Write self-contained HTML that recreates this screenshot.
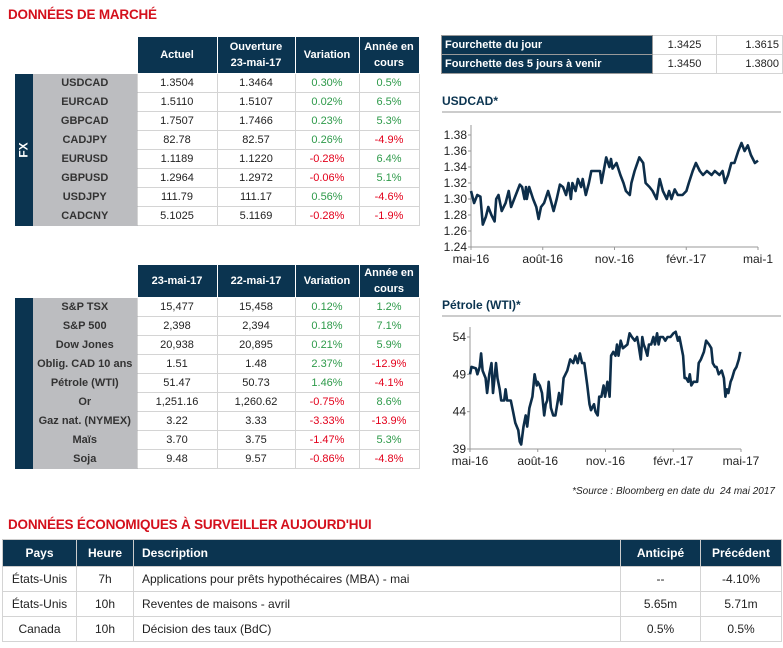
<!DOCTYPE html>
<html><head><meta charset="utf-8">
<style>
*{margin:0;padding:0;box-sizing:border-box}
body{width:783px;height:648px;background:#fff;font-family:"Liberation Sans",sans-serif;position:relative;overflow:hidden;color:#222}
.title{position:absolute;left:8px;color:#d4101c;font-size:13.5px;font-weight:bold;letter-spacing:-0.2px}
table{position:absolute;border-collapse:collapse;table-layout:fixed;font-size:11px}
td,th{text-align:center;padding:0;white-space:nowrap;overflow:hidden}
th{background:#0b3450;color:#fff;font-weight:bold;border:1px solid #fff;line-height:16px}
td.v{border:1px solid #d4d4d4;background:#fff;height:19px}
td.lab{background:#bcbdc0;color:#333;font-weight:bold;border-bottom:1px solid #bcbdc0;height:19px}
td.band{background:#0b3450;color:#fff;font-weight:bold;border:none}
.g{color:#2e9a4a}.r{color:#e3001b}
.band span{display:inline-block;transform:rotate(-90deg);white-space:nowrap;font-size:12px}
.ctitle{position:absolute;left:442px;width:339px;font-weight:bold;color:#0b3450;font-size:12px;border-bottom:2px solid #ccc;padding-bottom:3px}
svg{position:absolute;left:0;top:0}
svg text{font-family:"Liberation Sans",sans-serif;font-size:12px;fill:#222}
</style></head><body>
<div class="title" style="top:7px">DONNÉES DE MARCHÉ</div>

<table style="left:15px;top:36px;width:404px">
<colgroup><col style="width:18px"><col style="width:104px"><col style="width:80px"><col style="width:78px"><col style="width:64px"><col style="width:60px"></colgroup>
<tr style="height:37px"><td colspan="2" style="background:#fff"></td><th>Actuel</th><th>Ouverture<br>23-mai-17</th><th>Variation</th><th>Année en<br>cours</th></tr>
<tr><td class="band" rowspan="8"><span>FX</span></td><td class="lab">USDCAD</td><td class="v">1.3504</td><td class="v">1.3464</td><td class="v g">0.30%</td><td class="v g">0.5%</td></tr>
<tr><td class="lab">EURCAD</td><td class="v">1.5110</td><td class="v">1.5107</td><td class="v g">0.02%</td><td class="v g">6.5%</td></tr>
<tr><td class="lab">GBPCAD</td><td class="v">1.7507</td><td class="v">1.7466</td><td class="v g">0.23%</td><td class="v g">5.3%</td></tr>
<tr><td class="lab">CADJPY</td><td class="v">82.78</td><td class="v">82.57</td><td class="v g">0.26%</td><td class="v r">-4.9%</td></tr>
<tr><td class="lab">EURUSD</td><td class="v">1.1189</td><td class="v">1.1220</td><td class="v r">-0.28%</td><td class="v g">6.4%</td></tr>
<tr><td class="lab">GBPUSD</td><td class="v">1.2964</td><td class="v">1.2972</td><td class="v r">-0.06%</td><td class="v g">5.1%</td></tr>
<tr><td class="lab">USDJPY</td><td class="v">111.79</td><td class="v">111.17</td><td class="v g">0.56%</td><td class="v r">-4.6%</td></tr>
<tr><td class="lab">CADCNY</td><td class="v">5.1025</td><td class="v">5.1169</td><td class="v r">-0.28%</td><td class="v r">-1.9%</td></tr>
</table>

<table style="left:15px;top:264px;width:404px">
<colgroup><col style="width:18px"><col style="width:104px"><col style="width:80px"><col style="width:78px"><col style="width:64px"><col style="width:60px"></colgroup>
<tr style="height:33px"><td colspan="2" style="background:#fff"></td><th>23-mai-17</th><th>22-mai-17</th><th>Variation</th><th>Année en<br>cours</th></tr>
<tr><td class="band" rowspan="9"><span>Autres marchés</span></td><td class="lab">S&amp;P TSX</td><td class="v">15,477</td><td class="v">15,458</td><td class="v g">0.12%</td><td class="v g">1.2%</td></tr>
<tr><td class="lab">S&amp;P 500</td><td class="v">2,398</td><td class="v">2,394</td><td class="v g">0.18%</td><td class="v g">7.1%</td></tr>
<tr><td class="lab">Dow Jones</td><td class="v">20,938</td><td class="v">20,895</td><td class="v g">0.21%</td><td class="v g">5.9%</td></tr>
<tr><td class="lab">Oblig. CAD 10 ans</td><td class="v">1.51</td><td class="v">1.48</td><td class="v g">2.37%</td><td class="v r">-12.9%</td></tr>
<tr><td class="lab">Pétrole (WTI)</td><td class="v">51.47</td><td class="v">50.73</td><td class="v g">1.46%</td><td class="v r">-4.1%</td></tr>
<tr><td class="lab">Or</td><td class="v">1,251.16</td><td class="v">1,260.62</td><td class="v r">-0.75%</td><td class="v g">8.6%</td></tr>
<tr><td class="lab">Gaz nat. (NYMEX)</td><td class="v">3.22</td><td class="v">3.33</td><td class="v r">-3.33%</td><td class="v r">-13.9%</td></tr>
<tr><td class="lab">Maïs</td><td class="v">3.70</td><td class="v">3.75</td><td class="v r">-1.47%</td><td class="v g">5.3%</td></tr>
<tr><td class="lab">Soja</td><td class="v">9.48</td><td class="v">9.57</td><td class="v r">-0.86%</td><td class="v r">-4.8%</td></tr>
</table>

<table style="left:441px;top:35px;width:341px">
<colgroup><col style="width:211px"><col style="width:64px"><col style="width:66px"></colgroup>
<tr><th style="text-align:left;padding-left:3px;height:19px;border:1px solid #999">Fourchette du jour</th><td class="v">1.3425</td><td class="v" style="text-align:right;padding-right:3px">1.3615</td></tr>
<tr><th style="text-align:left;padding-left:3px;height:19px;border:1px solid #999">Fourchette des 5 jours à venir</th><td class="v">1.3450</td><td class="v" style="text-align:right;padding-right:3px">1.3800</td></tr>
</table>

<div class="ctitle" style="top:94px">USDCAD*</div>
<div class="ctitle" style="top:298px">Pétrole (WTI)*</div>

<svg id="charts" width="783" height="648"></svg>

<div style="position:absolute;right:8px;top:486px;font-size:10px;font-style:italic;color:#222">*Source : Bloomberg en date du &nbsp;24 mai 2017</div>

<div class="title" style="top:517px">DONNÉES ÉCONOMIQUES À SURVEILLER AUJOURD'HUI</div>

<table style="left:2px;top:539px;width:779px;font-size:12px">
<colgroup><col style="width:74px"><col style="width:57px"><col style="width:487px"><col style="width:80px"><col style="width:81px"></colgroup>
<tr style="height:27px"><th style="border:1px solid #ccc">Pays</th><th style="border:1px solid #ccc">Heure</th><th style="text-align:left;padding-left:8px;border:1px solid #ccc">Description</th><th style="border:1px solid #ccc">Anticipé</th><th style="border:1px solid #ccc">Précédent</th></tr>
<tr style="height:25px"><td class="v">États-Unis</td><td class="v">7h</td><td class="v" style="text-align:left;padding-left:8px">Applications pour prêts hypothécaires (MBA) - mai</td><td class="v">--</td><td class="v">-4.10%</td></tr>
<tr style="height:25px"><td class="v">États-Unis</td><td class="v">10h</td><td class="v" style="text-align:left;padding-left:8px">Reventes de maisons - avril</td><td class="v">5.65m</td><td class="v">5.71m</td></tr>
<tr style="height:25px"><td class="v">Canada</td><td class="v">10h</td><td class="v" style="text-align:left;padding-left:8px">Décision des taux (BdC)</td><td class="v">0.5%</td><td class="v">0.5%</td></tr>
</table>

<script>
const usdDays=[0,4,8,12,15,19,22,26,30,32,35,39,44,48,51,55,62,65,68,70,71,74,79,83,86,89,93,98,101,105,109,113,117,121,124,127,129,133,136,140,142,146,150,153,159,164,166,172,176,178,180,185,190,194,197,202,204,208,214,219,222,227,231,236,240,244,249,252,255,259,263,269,274,277,282,286,291,295,300,306,310,316,320,323,327,331,335,340,344,348,352,356,361,365];
const usdValues=[1.31,1.295,1.305,1.303,1.268,1.278,1.29,1.28,1.272,1.30,1.305,1.285,1.295,1.31,1.29,1.30,1.318,1.315,1.30,1.315,1.30,1.315,1.30,1.29,1.275,1.29,1.295,1.31,1.30,1.285,1.30,1.318,1.315,1.305,1.32,1.30,1.32,1.31,1.325,1.315,1.325,1.305,1.32,1.335,1.335,1.335,1.32,1.352,1.34,1.35,1.338,1.345,1.33,1.32,1.31,1.305,1.32,1.335,1.352,1.345,1.32,1.315,1.31,1.30,1.325,1.31,1.30,1.31,1.30,1.312,1.305,1.305,1.31,1.32,1.335,1.345,1.335,1.33,1.335,1.33,1.335,1.33,1.335,1.32,1.33,1.345,1.345,1.36,1.37,1.36,1.367,1.355,1.345,1.348];
const usdTicks=[1.24,1.26,1.28,1.30,1.32,1.34,1.36,1.38];
const usdXLabels=["mai-16","août-16","nov.-16","févr.-17","mai-1"];
const oilDays=[0,2,8,10,13,15,17,21,23,26,29,31,35,37,40,42,46,48,50,55,58,61,65,67,69,72,75,77,80,84,87,90,91,94,97,100,102,104,106,109,112,115,120,123,126,131,135,139,142,145,148,151,154,158,161,163,167,169,172,174,177,180,182,185,188,190,193,196,198,200,203,206,212,215,218,222,225,227,230,232,234,236,239,241,244,247,249,252,254,256,260,263,266,270,274,277,280,282,284,287,289,291,294,296,298,301,304,306,308,311,315,318,322,325,327,330,332,335,339,342,344,346,348,351,353,356,359,362,364];
const oilValues=[49,50,49.8,49,50,51.8,49.5,48.5,46.5,49,50.5,46.5,50.5,48.5,47,45.5,45.5,47,45.5,45.5,44,42.5,41.5,40,39.6,42,43.5,42,44.5,46,49,47.5,48,47.5,46.5,43.5,45,45.5,48,44.5,43.5,43.5,46.5,45,48.5,49.5,51,50.5,51.5,50.5,51.8,50.5,50.5,47.5,45,44.2,45,44,43.5,46,46,47.5,46,48,46,51.5,52,51.5,53,51.5,53.5,52.5,53,54.5,54,53.5,54,53,51,54,53,52.5,51.5,53,53,54,53,54.5,53,54,54,53.5,54,54,54.5,54.7,53.5,54,53,51.5,48.5,48.5,48,49,47.5,48,48,48,50.5,51,52,53.5,53,52.5,50.5,50,50,49,49.5,48.5,46,47,46.5,48,48.5,49.5,50,51,52];
const oilTicks=[39,44,49,54];
const oilXLabels=["mai-16","août-16","nov.-16","févr.-17","mai-17"];

const NS="http://www.w3.org/2000/svg";
const svg=document.getElementById('charts');
function mk(tag,attrs){const e=document.createElementNS(NS,tag);for(const k in attrs)e.setAttribute(k,attrs[k]);svg.appendChild(e);return e;}
function drawChart(cfg){
  const xs=d=>cfg.x0+(d/365)*(cfg.x1-cfg.x0);
  const ys=v=>cfg.yb-(v-cfg.vmin)/(cfg.vmax-cfg.vmin)*(cfg.yb-cfg.yt);
  const ax=mk('path',{d:`M${cfg.x0},${cfg.yt-10}V${cfg.yb}H${cfg.x1}`,stroke:'#999',fill:'none','stroke-width':1});
  
  
  cfg.ticks.forEach(t=>{
    const tx=mk('text',{x:cfg.x0-4,y:ys(t)+4,'text-anchor':'end'});
    tx.textContent=cfg.fmt(t);
    
    
    mk('line',{x1:cfg.x0-3,x2:cfg.x0,y1:ys(t),y2:ys(t),stroke:'#999'});
  });
  cfg.xl.forEach((l,i)=>{
    const x=cfg.x0+i*(cfg.x1-cfg.x0)/(cfg.xl.length-1);
    mk('line',{x1:x,x2:x,y1:cfg.yb,y2:cfg.yb+3,stroke:'#999'});
    const tx=mk('text',{x:x,y:cfg.yb+16,'text-anchor':'middle'});
    tx.textContent=l;
    
    
  });
  const d=cfg.days.map((dd,i)=>(i?'L':'M')+xs(dd).toFixed(1)+','+ys(cfg.vals[i]).toFixed(1)).join('');
  const p=mk('path',{d:d,stroke:'#0d2e4a',fill:'none','stroke-width':2.6,'stroke-linejoin':'round'});
  
  
}
drawChart({name:'usdcad',x0:471,x1:758,yt:135,yb:247,vmin:1.24,vmax:1.38,days:usdDays,vals:usdValues,ticks:usdTicks,xl:usdXLabels,fmt:t=>t.toFixed(2)});
drawChart({name:'oil',x0:470,x1:741,yt:337,yb:449,vmin:39,vmax:54,days:oilDays,vals:oilValues,ticks:oilTicks,xl:oilXLabels,fmt:t=>String(t)});
</script>
</body></html>
